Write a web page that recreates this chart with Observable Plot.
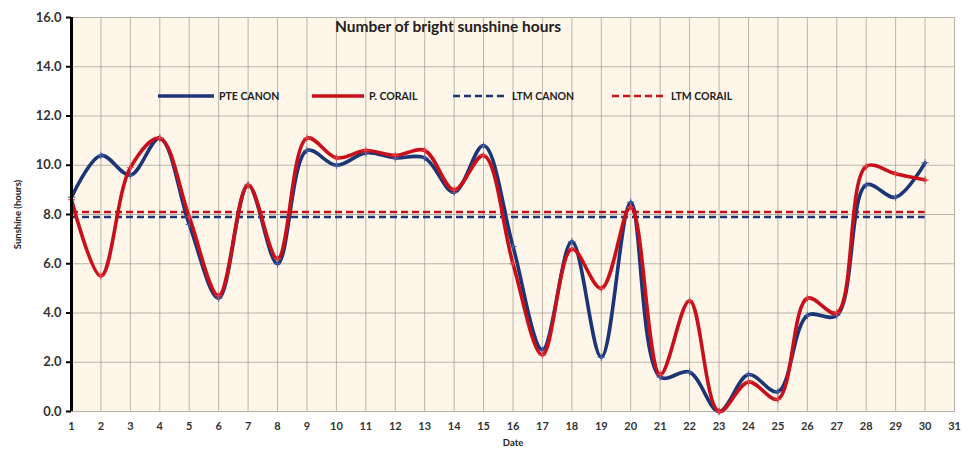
<!DOCTYPE html>
<html><head><meta charset="utf-8">
<script src="https://cdn.jsdelivr.net/npm/d3@7"></script>
<script src="https://cdn.jsdelivr.net/npm/@observablehq/plot@0.6"></script>
<style>
body{margin:0;background:#fff;font-family:Lato,"Open Sans",sans-serif}
#wrap{position:relative;width:962px;height:449px}
.title{position:absolute;left:335px;top:17px;font-size:15.5px;font-weight:bold;color:#222;white-space:nowrap}
.leg{position:absolute;top:89px;display:flex;align-items:center;font-size:10.5px;font-weight:bold;color:#222;white-space:nowrap}
.leg svg{margin-right:5px}
</style></head>
<body><div id="wrap"></div>
<script>
const days = [1,2,3,4,5,6,7,8,9,10,11,12,13,14,15,16,17,18,19,20,21,22,23,24,25,26,27,28,29,30];
const pteCanon = [8.7,10.4,9.6,11.1,7.6,4.6,9.2,6.0,10.6,10.0,10.5,10.3,10.3,8.9,10.8,6.7,2.5,6.9,2.2,8.5,1.4,1.6,0.0,1.5,0.8,3.9,3.9,9.2,8.7,10.1];
const pCorail = [8.6,5.5,9.9,11.1,7.9,4.7,9.2,6.2,11.1,10.3,10.6,10.4,10.6,9.0,10.4,6.0,2.3,6.6,5.0,8.3,1.5,4.5,0.0,1.2,0.5,4.6,4.0,9.95,9.65,9.4];
const ltmCanon = 7.9;
const ltmCorail = 8.1;
const xTicks = [1,2,3,4,5,6,7,8,9,10,11,12,13,14,15,16,17,18,19,20,21,22,23,24,25,26,27,28,29,30,31];
const yTicks = [0,2,4,6,8,10,12,14,16];
const seriesNames = ["PTE CANON","P. CORAIL","LTM CANON","LTM CORAIL"];
const colors = {"PTE CANON":"#1c3577","P. CORAIL":"#c8101a","LTM CANON":"#1c3577","LTM CORAIL":"#c8101a"};

const rows = s => days.map((d,i)=>({day:d, v:s[i]}));
const canonRows = rows(pteCanon), corailRows = rows(pCorail);

const chart = Plot.plot({
  width: 962, height: 449,
  marginLeft: 71, marginRight: 8, marginTop: 17, marginBottom: 38,
  style: {fontFamily: "Lato, 'Open Sans', sans-serif", background: "transparent"},
  x: {domain: [1,31], ticks: xTicks, label: null},
  y: {domain: [0,16], ticks: yTicks, label: null},
  marks: [
    Plot.frame({fill: "#fdf6e9", stroke: null}),
    Plot.gridX(xTicks, {stroke: "#8f8a80", strokeOpacity: 0.6, strokeWidth: 1}),
    Plot.gridY(yTicks, {stroke: "#8f8a80", strokeOpacity: 0.6, strokeWidth: 1}),
    Plot.frame({stroke: "#b8b3aa", strokeWidth: 1}),
    Plot.ruleY([ltmCorail], {x1: days[0], x2: days[days.length-1], stroke: colors["LTM CORAIL"], strokeWidth: 2.5, strokeDasharray: "7,4"}),
    Plot.ruleY([ltmCanon], {x1: days[0], x2: days[days.length-1], stroke: colors["LTM CANON"], strokeWidth: 2.5, strokeDasharray: "7,4"}),
    Plot.line(canonRows, {x: "day", y: "v", stroke: colors["PTE CANON"], strokeWidth: 3.6, curve: "catmull-rom"}),
    Plot.dot(canonRows, {x: "day", y: "v", symbol: "plus", r: 2.5, stroke: "#4a63a8", strokeWidth: 1}),
    Plot.line(corailRows, {x: "day", y: "v", stroke: colors["P. CORAIL"], strokeWidth: 3.6, curve: "catmull-rom"}),
    Plot.dot(corailRows, {x: "day", y: "v", symbol: "plus", r: 2.5, stroke: "#e2474e", strokeWidth: 1}),
    Plot.ruleX([1], {stroke: "#000", strokeWidth: 3}),
    Plot.axisY({ticks: yTicks, tickFormat: d3.format(".1f"), tickSize: 5, tickPadding: 5, fontSize: 13, fontWeight: "bold", stroke: "#000", strokeWidth: 2, fill: "#333", label: "Sunshine (hours)", labelAnchor: "center", labelOffset: 57, labelArrow: "none"}),
    Plot.axisX({ticks: xTicks, tickSize: 0, tickPadding: 11, fontSize: 11, fontWeight: "bold", fill: "#333", label: "Date", labelAnchor: "center", labelOffset: 34, labelArrow: "none"})
  ]
});
d3.select(chart).selectAll("[aria-label='y-axis label'] text, [aria-label='x-axis label'] text").attr("font-size", 9.5).attr("font-weight", "bold").attr("fill", "#222");
const wrap = document.getElementById("wrap");
wrap.appendChild(chart);

const t = document.createElement("div");
t.className = "title"; t.textContent = "Number of bright sunshine hours";
wrap.appendChild(t);

const legPos = [[158,56],[312,52],[453,54],[612,54]];
seriesNames.forEach((n,i)=>{
  const d = document.createElement("div");
  d.className = "leg";
  d.style.left = legPos[i][0]+"px";
  const w = legPos[i][1];
  const dashed = n.startsWith("LTM");
  d.innerHTML = `<svg width="${w}" height="14"><line x1="0" x2="${w}" y1="7" y2="7" stroke="${colors[n]}" stroke-width="${dashed?2.5:3.6}" ${dashed?'stroke-dasharray="7,4"':''}/></svg><span>${n}</span>`;
  wrap.appendChild(d);
});
</script></body></html>
